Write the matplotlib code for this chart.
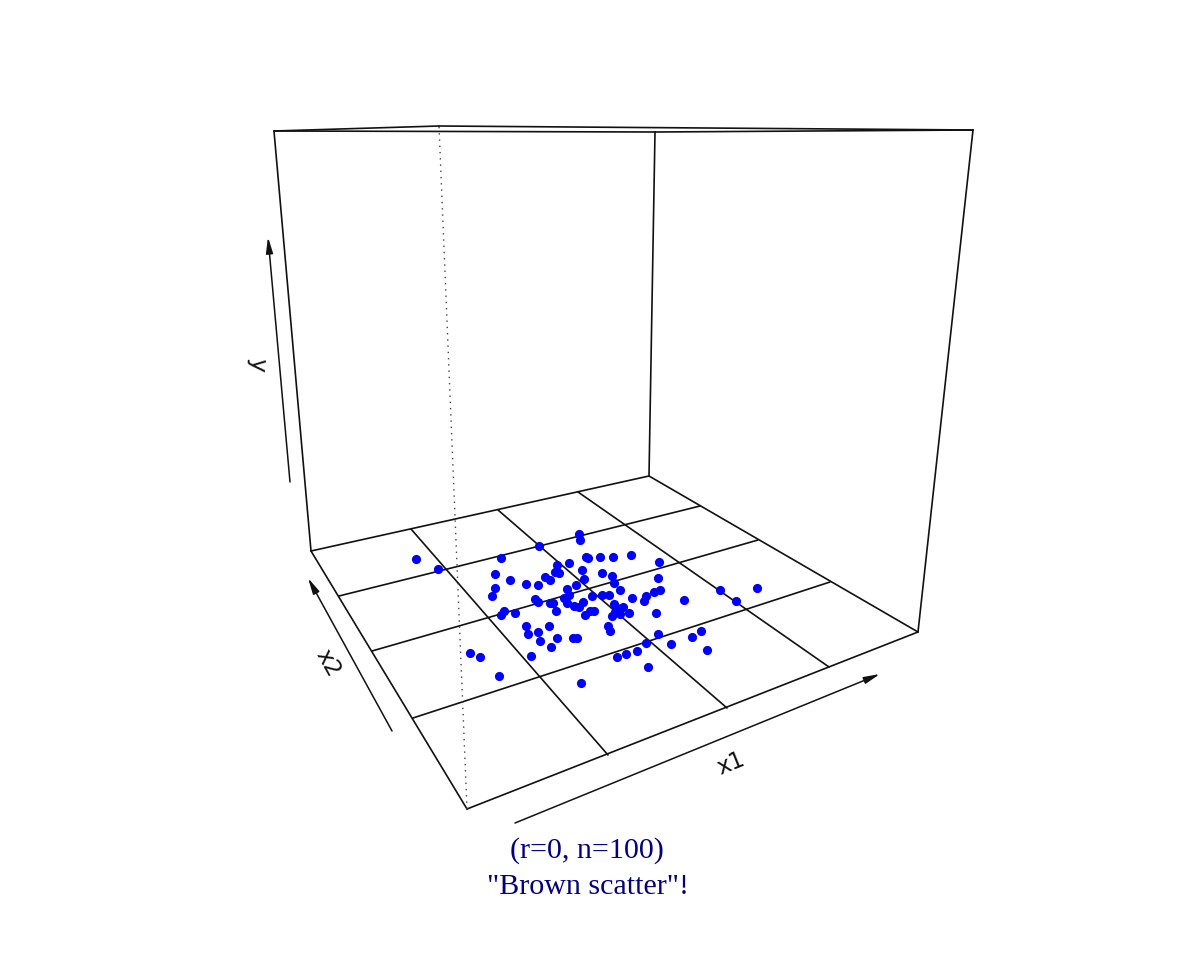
import matplotlib
matplotlib.use("Agg")
import matplotlib.pyplot as plt

pts_x = [416, 438, 501, 539, 579, 580, 495, 510, 526, 538, 495, 492, 535, 538, 550, 553,
         556, 557, 569, 586, 588, 582, 555, 559, 545, 550, 584, 576, 567, 592, 569, 564,
         567, 574, 579, 583, 585, 590, 594, 501, 504, 515, 526, 528, 538, 549, 540, 557,
         573, 577, 551, 531, 470, 480, 499, 581,
         600, 613, 631, 659, 602, 612, 614, 620, 658, 660, 654, 602, 609, 632, 646, 644,
         684, 720, 736, 757, 614, 623, 617, 612, 620, 629, 615, 656, 608, 610, 658, 646,
         671, 692, 701, 707, 617, 626, 637, 648]
pts_y = [559, 569, 558, 546, 534, 540, 574, 580, 584, 585, 588, 596, 599, 602, 603, 603,
         611, 565, 563, 557, 558, 570, 572, 573, 577, 580, 579, 585, 589, 596, 595, 598,
         603, 606, 607, 602, 615, 611, 611, 615, 611, 613, 626, 634, 632, 626, 641, 638,
         638, 638, 647, 656, 653, 657, 676, 683,
         557, 557, 555, 562, 573, 576, 583, 590, 578, 590, 592, 595, 595, 598, 596, 601,
         600, 590, 601, 588, 604, 607, 608, 616, 614, 613, 612, 613, 626, 631, 634, 643,
         644, 637, 631, 650, 657, 654, 651, 667]

# box corners
floor_front = (467, 809)
floor_left = (311, 551)
floor_right = (918, 632)
floor_back = (649, 476)
top_front = (439, 126)
top_left = (274, 131)
top_right = (973, 130)
top_back = (655, 132)

# grid lines on the floor, start and end
grid_a = [(608, 755), (727, 708), (829, 667)]
grid_a_end = [(411, 529), (498, 510), (578, 492)]
grid_b = [(413, 718), (372, 651), (339, 596)]
grid_b_end = [(830, 582), (758, 540), (700, 506)]

# axis arrows, tail and head
arrow_y = ((290, 482), (268, 237))
arrow_x2 = ((392, 731), (308, 578))
arrow_x1 = ((515, 823), (880, 674))

caption = ['(r=0, n=100)', '"Brown scatter"!']

fig = plt.figure(figsize=(12, 9.6), dpi=100)
ax = fig.add_axes([0, 0, 1, 1])
ax.set_xlim(0, 1200)
ax.set_ylim(960, 0)
ax.axis("off")


def seg(a, b, **kw):
    ax.plot([a[0], b[0]], [a[1], b[1]], color="#111111", lw=1.2, solid_capstyle="round", **kw)


# back and floor of the box
for a, b in [(floor_front, floor_left), (floor_left, floor_back), (floor_back, floor_right),
             (floor_right, floor_front), (floor_left, top_left), (floor_back, top_back),
             (floor_right, top_right), (top_left, top_back), (top_back, top_right),
             (top_left, top_front), (top_front, top_right)]:
    seg(a, b)
for a, b in zip(grid_a, grid_a_end):
    seg(a, b)
for a, b in zip(grid_b, grid_b_end):
    seg(a, b)

# front vertical edge is dotted
ax.plot([floor_front[0], top_front[0]], [floor_front[1], top_front[1]], color="#444444",
        lw=1.0, linestyle=(0, (1, 3.5)))

ax.plot(pts_x, pts_y, "o", color="#0000ff", ms=6.6, mew=0, zorder=5)

for tail, head in [arrow_y, arrow_x2, arrow_x1]:
    ax.annotate("", xy=head, xytext=tail,
                arrowprops=dict(arrowstyle="-|>,head_length=0.6,head_width=0.13", color="#111111",
                                lw=1.1, shrinkA=0, shrinkB=0, mutation_scale=16))

lab = dict(family="DejaVu Sans", fontsize=16.5, color="#111111", ha="center", va="center",
           rotation_mode="anchor")
ax.text(731, 764, "x1", rotation=22, **lab)
ax.text(328, 663, "x2", rotation=-61, **lab)
ax.text(257, 365, "y", rotation=-95, **lab)

ax.text(587, 851, caption[0], family="Liberation Serif", fontsize=21.6, color="#000080",
        ha="center", va="center")
ax.text(588, 887, caption[1], family="Liberation Serif", fontsize=21.6, color="#000080",
        ha="center", va="center")

fig.savefig("out.png", dpi=100)
